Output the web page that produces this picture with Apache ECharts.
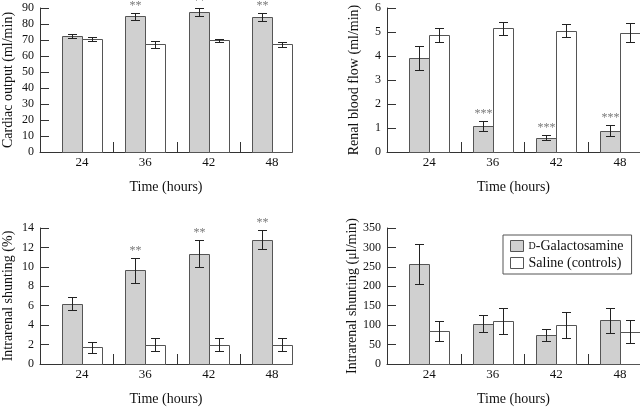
<!DOCTYPE html>
<html>
<head>
<meta charset="utf-8">
<script src="https://cdn.jsdelivr.net/npm/echarts@6/dist/echarts.min.js"></script>
<style>
  html, body { margin: 0; padding: 0; background: #fff; }
  #chart { width: 640px; height: 407px; }
</style>
</head>
<body>
<div id="chart"></div>
<script>
// data
var times = ['24', '36', '42', '48'];

var coGal = [72.3, 84.7, 87.4, 84.3];
var coGalErr = [1.3, 2.3, 2.6, 2.4];
var coSal = [70.6, 67.2, 69.7, 67.3];
var coSalErr = [1.0, 1.9, 1.1, 1.7];
var coStars = ['', '**', '**', '**'];

var rbfGal = [3.93, 1.08, 0.6, 0.89];
var rbfGalErr = [0.5, 0.2, 0.11, 0.24];
var rbfSal = [4.87, 5.15, 5.06, 4.97];
var rbfSalErr = [0.3, 0.26, 0.26, 0.4];
var rbfStars = ['', '***', '***', '***'];

var shPctGal = [6.2, 9.65, 11.35, 12.8];
var shPctGalErr = [0.65, 1.28, 1.4, 1.0];
var shPctSal = [1.7, 2.0, 2.0, 2.0];
var shPctSalErr = [0.53, 0.63, 0.63, 0.63];
var shPctStars = ['', '**', '**', '**'];

var shFlowGal = [258, 104, 75, 112];
var shFlowGalErr = [52, 21, 16, 33];
var shFlowSal = [85, 111, 101, 83];
var shFlowSalErr = [26, 33, 34, 30];
var shFlowStars = ['', '', '', ''];

var galName = 'D-Galactosamine';
var salName = 'Saline (controls)';

var FONT = 'Liberation Serif';
var BAR_W = 0.316;   // bar width in category units
var AXIS = '#333';

var panels = [
  { title: 'Cardiac output (ml/min)', max: 90, step: 10, gal: coGal, galErr: coGalErr, sal: coSal, salErr: coSalErr, stars: coStars,
    grid: { left: 40, top: 8, width: 252, height: 144 } },
  { title: 'Renal blood flow (ml/min)', max: 6, step: 1, gal: rbfGal, galErr: rbfGalErr, sal: rbfSal, salErr: rbfSalErr, stars: rbfStars,
    grid: { left: 387, top: 8, width: 253, height: 144 } },
  { title: 'Intrarenal shunting (%)', max: 14, step: 2, gal: shPctGal, galErr: shPctGalErr, sal: shPctSal, salErr: shPctSalErr, stars: shPctStars,
    grid: { left: 40, top: 228, width: 252, height: 144 } },
  { title: 'Intrarenal shunting (\u03bcl/min)', max: 350, step: 50, gal: shFlowGal, galErr: shFlowGalErr, sal: shFlowSal, salErr: shFlowSalErr, stars: shFlowStars,
    grid: { left: 387, top: 228, width: 253, height: 144 } }
];

function px(v) { return Math.round(v) + 0.5; }

// bar + error bar (+ significance stars) drawn through the axis scales
function barRenderer(offset, errs, stars) {
  return function (params, api) {
    var k = params.dataIndex;
    var x = api.value(0) + offset;
    var y = api.value(1);
    var e = errs[k];
    var top = api.coord([x, y]);
    var base = api.coord([x, 0]);
    var w = api.size([BAR_W, 0])[0];
    var hi = api.coord([x, y + e]);
    var lo = api.coord([x, y - e]);
    var cx = px(top[0]);
    var cap = 4.5;
    var lineStyle = { stroke: '#222', lineWidth: 1 };
    var children = [
      { type: 'rect', shape: { x: px(top[0] - w / 2), y: px(top[1]), width: Math.round(w), height: Math.round(base[1] - top[1]) },
        style: api.style() },
      { type: 'line', shape: { x1: cx, y1: px(hi[1]), x2: cx, y2: px(lo[1]) }, style: lineStyle },
      { type: 'line', shape: { x1: cx - cap, y1: px(hi[1]), x2: cx + cap, y2: px(hi[1]) }, style: lineStyle },
      { type: 'line', shape: { x1: cx - cap, y1: px(lo[1]), x2: cx + cap, y2: px(lo[1]) }, style: lineStyle }
    ];
    if (stars && stars[k]) {
      children.push({ type: 'text', x: cx, y: hi[1] - 1,
        style: { text: stars[k], align: 'center', verticalAlign: 'bottom', fill: '#777', font: '12px "' + FONT + '"' } });
    }
    return { type: 'group', children: children };
  };
}

var grids = [], xAxes = [], yAxes = [], series = [];

panels.forEach(function (p, i) {
  grids.push(p.grid);
  xAxes.push({
    gridIndex: i, type: 'value', min: -0.663, max: 3.316,
    name: 'Time (hours)', nameLocation: 'middle', nameGap: 28,
    nameTextStyle: { fontFamily: FONT, fontSize: 14, color: '#111' },
    axisLine: { show: true, onZero: false, lineStyle: { color: AXIS } },
    axisTick: { show: true, inside: true, length: 10, customValues: [0.5, 1.5, 2.5], lineStyle: { color: AXIS } },
    axisLabel: { customValues: [0, 1, 2, 3], margin: 4, fontFamily: FONT, fontSize: 13, color: '#111',
      formatter: function (v) { return times[Math.round(v)]; } },
    splitLine: { show: false }
  });
  yAxes.push({
    gridIndex: i, type: 'value', min: 0, max: p.max, interval: p.step,
    name: p.title, nameLocation: 'middle', nameGap: i % 2 ? 26 : 25,
    nameTextStyle: { fontFamily: FONT, fontSize: 14, color: '#111' },
    axisLine: { show: true, onZero: false, lineStyle: { color: AXIS } },
    axisTick: { show: true, inside: true, length: 9, lineStyle: { color: AXIS } },
    axisLabel: { margin: 6, fontFamily: FONT, fontSize: 12, color: '#111' },
    splitLine: { show: false }
  });
  series.push({
    name: galName, type: 'custom', xAxisIndex: i, yAxisIndex: i,
    itemStyle: { color: '#d0d0d0', borderColor: '#555', borderWidth: 1 },
    encode: { x: 0, y: 1 },
    renderItem: barRenderer(-BAR_W / 2, p.galErr, p.stars),
    data: p.gal.map(function (v, k) { return [k, v]; }),
    silent: true
  });
  series.push({
    name: salName, type: 'custom', xAxisIndex: i, yAxisIndex: i,
    itemStyle: { color: '#ffffff', borderColor: '#555', borderWidth: 1 },
    encode: { x: 0, y: 1 },
    renderItem: barRenderer(BAR_W / 2, p.salErr, null),
    data: p.sal.map(function (v, k) { return [k, v]; }),
    silent: true
  });
});

var chart = echarts.init(document.getElementById('chart'), null, { renderer: 'canvas' });
chart.setOption({
  backgroundColor: '#fff',
  animation: false,
  grid: grids,
  xAxis: xAxes,
  yAxis: yAxes,
  legend: {
    left: 503, top: 235, orient: 'vertical',
    icon: 'rect', itemWidth: 13, itemHeight: 11, itemGap: 3,
    padding: [4, 8, 4, 7],
    borderColor: '#555', borderWidth: 1,
    selectedMode: false,
    data: [galName, salName],
    itemStyle: { borderColor: '#555', borderWidth: 1 },
    textStyle: { fontFamily: FONT, fontSize: 14, color: '#111',
      rich: { sc: { fontFamily: FONT, fontSize: 10, color: '#111' }, n: { fontFamily: FONT, fontSize: 14, color: '#111' } } },
    formatter: function (name) {
      if (name === galName) return '{sc|D}{n|-Galactosamine}';
      return '{n|' + name + '}';
    }
  },
  series: series
});
</script>
</body>
</html>
